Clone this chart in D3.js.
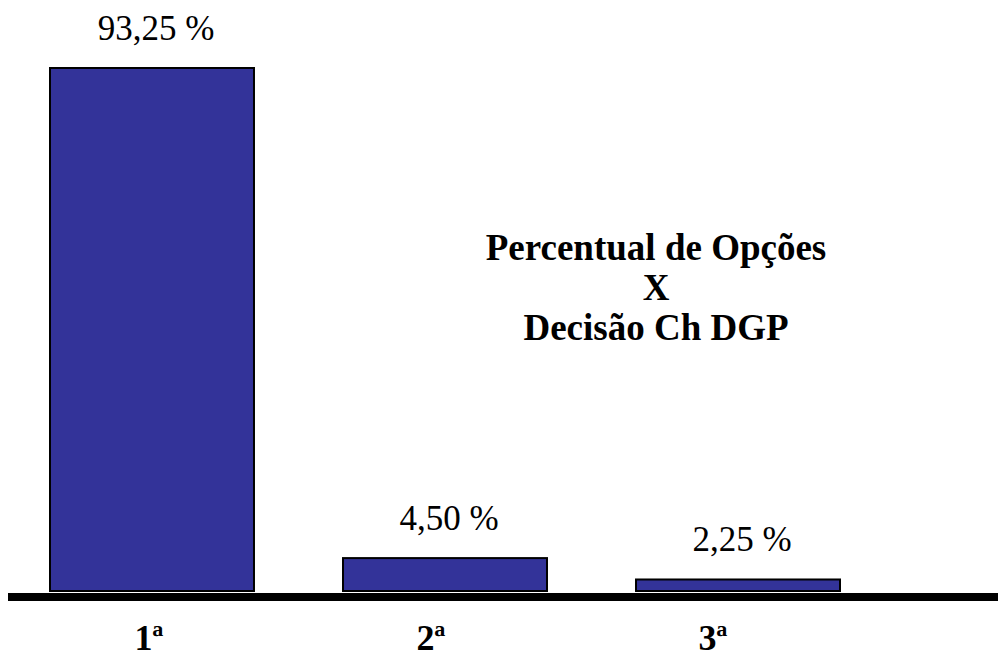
<!DOCTYPE html>
<html>
<head>
<meta charset="utf-8">
<script src="https://cdn.jsdelivr.net/npm/d3@7"></script>
<style>
  html, body { margin: 0; padding: 0; background: #fff; }
  svg { display: block; }
</style>
</head>
<body>
<svg id="chart" width="998" height="659"></svg>
<script>
// ---- data ----
const categories = ["1ª", "2ª", "3ª"];
const barValues = [93.25, 6.2, 2.4];          // bar heights as drawn in the picture
const valueLabels = ["93,25 %", "4,50 %", "2,25 %"];
const titleLines = ["Percentual de Opções", "X", "Decisão Ch DGP"];

// ---- layout ----
const W = 998, H = 659;
const baseY = 592;
const svg = d3.select("#chart");

const x = d3.scaleBand()
  .domain(categories)
  .range([49, 841])
  .paddingInner(0.297)
  .paddingOuter(0);

// category tick labels sit on their own evenly spaced positions
const xLab = d3.scalePoint()
  .domain(categories)
  .range([149, 713]);

const y = d3.scaleLinear()
  .domain([0, 93.25])
  .range([baseY, 67]);

const rows = categories.map((c, i) => ({ cat: c, v: barValues[i], label: valueLabels[i] }));

// bars
svg.append("g").selectAll("rect")
  .data(rows)
  .join("rect")
  .attr("x", d => x(d.cat) + 1)
  .attr("y", d => y(d.v) + 1)
  .attr("width", x.bandwidth() - 2)
  .attr("height", d => y(0) - y(d.v) - 2)
  .attr("fill", "#333399")
  .attr("stroke", "#000")
  .attr("stroke-width", 2);

// value labels
svg.append("g").selectAll("text")
  .data(rows)
  .join("text")
  .attr("x", d => x(d.cat) + x.bandwidth() / 2 + 4)
  .attr("y", d => y(d.v) - 27)
  .attr("text-anchor", "middle")
  .attr("font-family", "'Liberation Serif', 'Times New Roman', serif")
  .attr("font-size", 35)
  .attr("fill", "#000")
  .text(d => d.label);

// baseline axis
svg.append("line")
  .attr("x1", 8).attr("x2", W)
  .attr("y1", baseY + 5).attr("y2", baseY + 5)
  .attr("stroke", "#000")
  .attr("stroke-width", 8);

// category labels
svg.append("g").selectAll("text")
  .data(rows)
  .join("text")
  .attr("x", d => xLab(d.cat))
  .attr("y", 650)
  .attr("text-anchor", "middle")
  .attr("font-family", "'Liberation Serif', 'Times New Roman', serif")
  .attr("font-weight", "bold")
  .attr("font-size", 36)
  .attr("fill", "#000")
  .text(d => d.cat);

// title block
svg.append("g").selectAll("text")
  .data(titleLines)
  .join("text")
  .attr("x", 656)
  .attr("y", (d, i) => 260 + i * 40)
  .attr("text-anchor", "middle")
  .attr("font-family", "'Liberation Serif', 'Times New Roman', serif")
  .attr("font-weight", "bold")
  .attr("font-size", 37)
  .attr("fill", "#000")
  .text(d => d);
</script>
</body>
</html>
